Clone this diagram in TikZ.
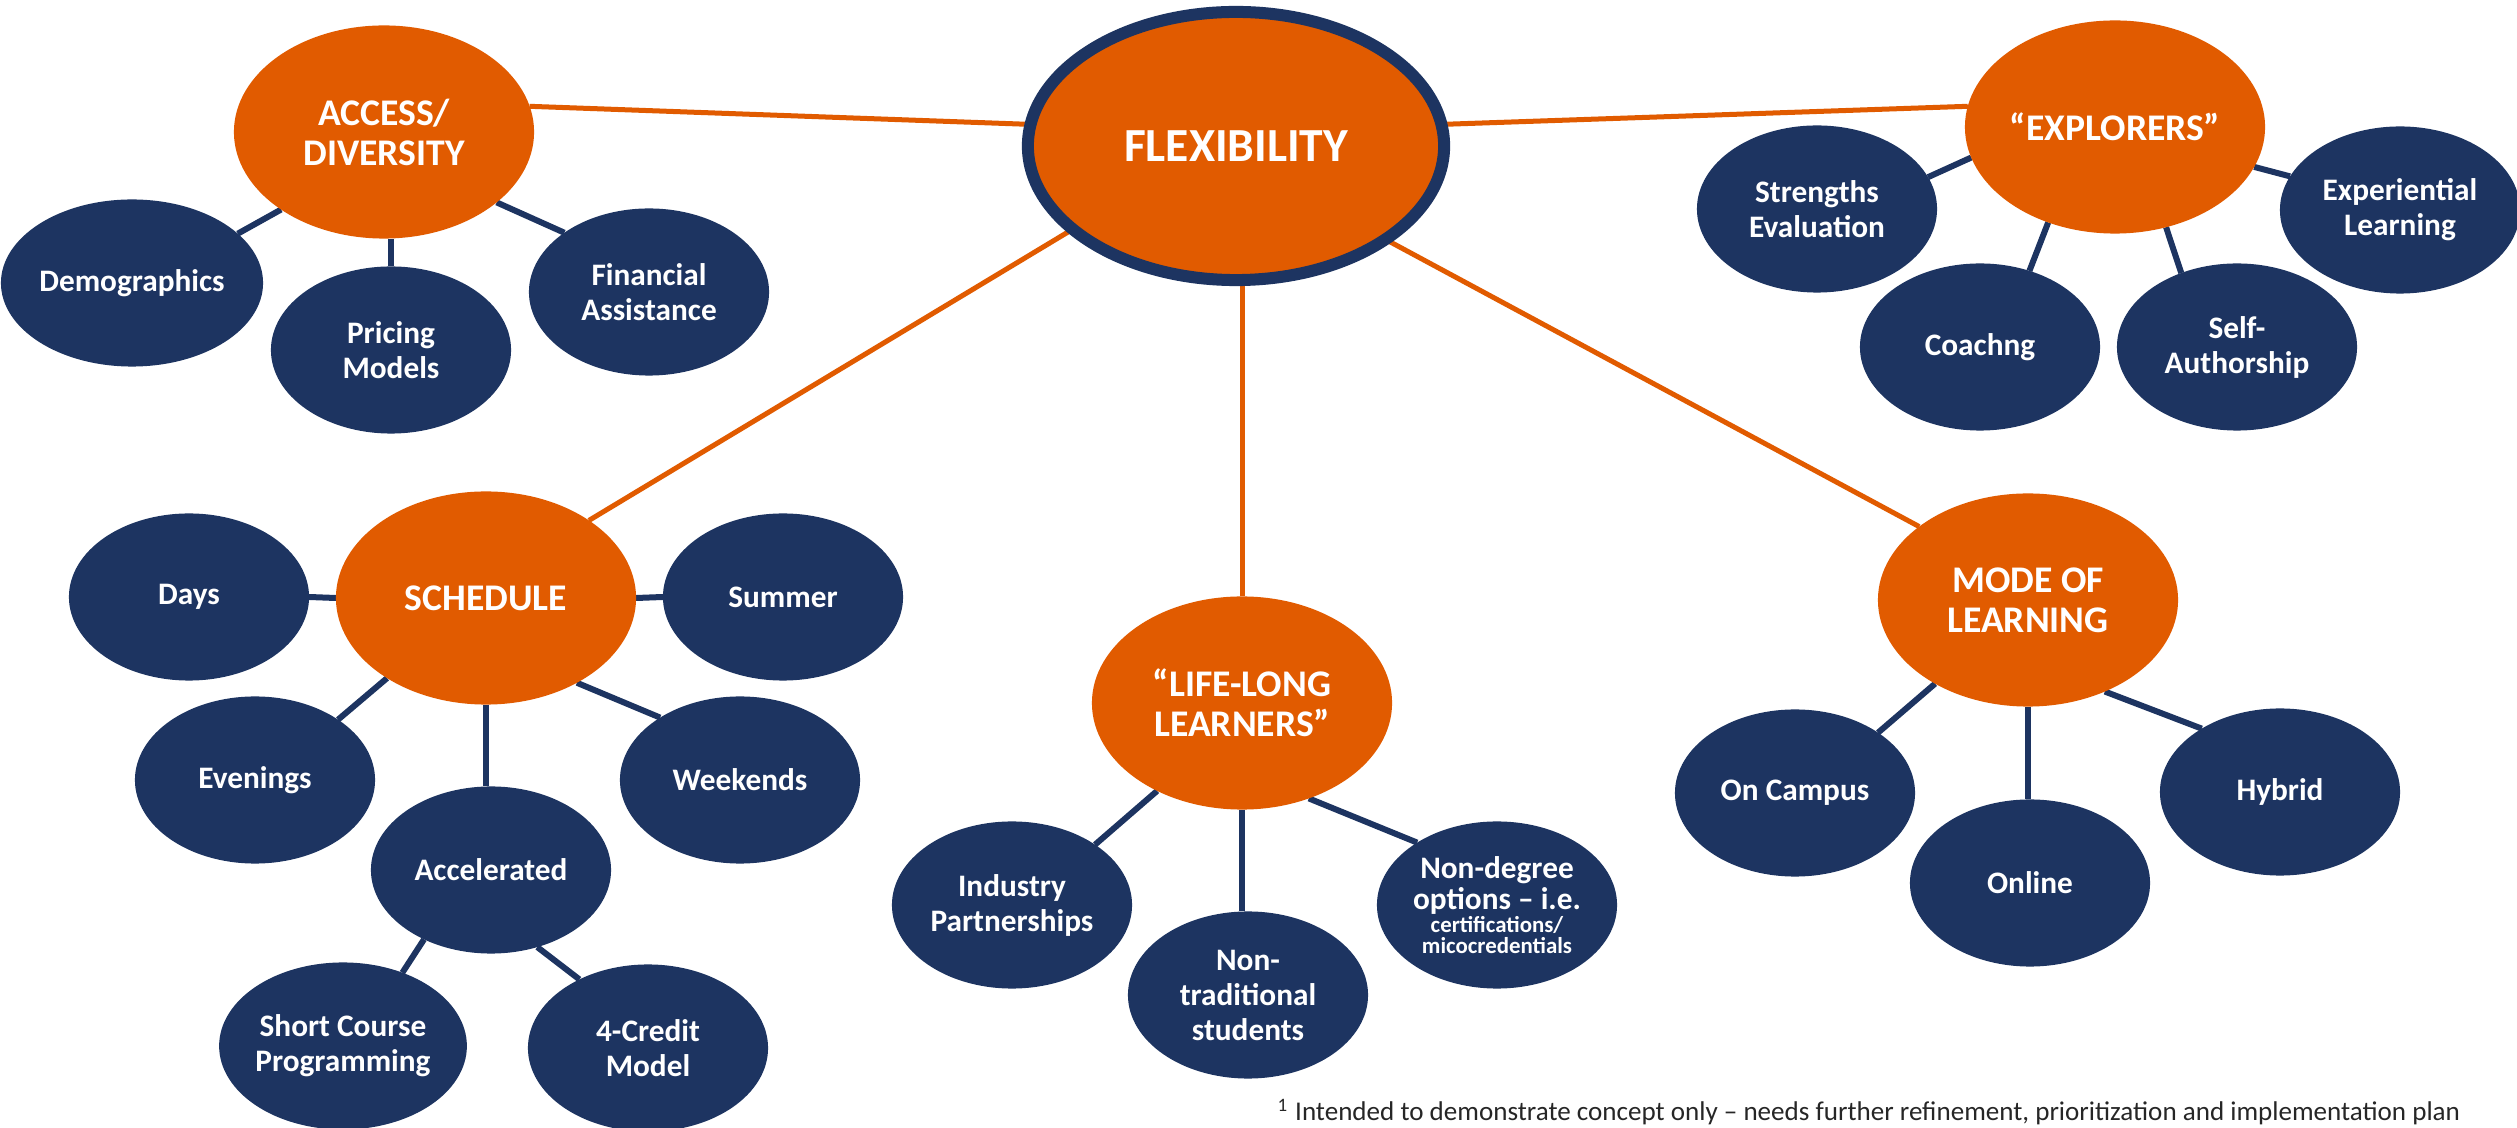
\documentclass[tikz,border=0pt]{standalone}
\usepackage{fontspec}
\setmainfont{Carlito}
\usetikzlibrary{shapes.geometric,backgrounds}
\definecolor{orangeC}{RGB}{225,91,0}
\definecolor{navyC}{RGB}{29,52,97}
\newcommand\flexfont{\fontsize{13.5pt}{14pt}\selectfont\bfseries}
\newcommand\hubfont{\fontsize{10.7pt}{11.4pt}\selectfont\bfseries}
\newcommand\satfont{\fontsize{8.9pt}{9.96pt}\selectfont\bfseries}
\newcommand\ndsmall{\fontsize{6.5pt}{7.2pt}\selectfont\bfseries}
\tikzset{
  hub/.style={ellipse, fill=orangeC, text=white, minimum width=3cm, minimum height=2.13cm,
    inner sep=0pt, outer sep=0pt, align=center, font=\hubfont},
  sat/.style={ellipse, fill=navyC, text=white, minimum width=2.4cm, minimum height=1.67cm,
    inner sep=0pt, outer sep=0pt, align=center, font=\satfont},
  centre/.style={ellipse, fill=orangeC, draw=navyC, line width=0.12cm, text=white,
    minimum width=4.16cm, minimum height=2.68cm, inner sep=0pt, outer sep=0pt, font=\flexfont},
  orline/.style={draw=orangeC, line width=0.05cm},
  navline/.style={draw=navyC, line width=0.06cm},
}
\begin{document}
\begin{tikzpicture}[x=0.01cm, y=-0.01cm]
\useasboundingbox (0,0) rectangle (2517,1128);
% hubs
\node[centre] (flex) at (1236,146) {FLEXIBILITY};
\node[hub] (access) at (384,132) {ACCESS/\\DIVERSITY};
\node[hub] (explorers) at (2115,127) {“EXPLORERS”};
\node[hub] (schedule) at (486,598) {SCHEDULE};
\node[hub] (ll) at (1242,703) {“LIFE-LONG\\LEARNERS”};
\node[hub] (mode) at (2028,600) {MODE OF\\LEARNING};
% access satellites
\node[sat] (demo) at (132,283) {Demographics};
\node[sat] (pricing) at (391,350) {Pricing\\Models};
\node[sat] (financial) at (649,292) {Financial\\Assistance};
% explorers satellites
\node[sat] (strengths) at (1817,209) {Strengths\\Evaluation};
\node[sat] (coach) at (1980,347) {Coachng};
\node[sat] (selfauth) at (2237,347) {Self-\\Authorship};
\node[sat] (exper) at (2400,210) {Experiential\\Learning};
% schedule satellites
\node[sat] (days) at (189,597) {Days};
\node[sat] (summer) at (783,597) {Summer};
\node[sat] (evenings) at (255,780) {Evenings};
\node[sat] (weekends) at (740,780) {Weekends};
\node[sat] (accel) at (491,870) {Accelerated};
\node[sat] (short) at (343,1046) {Short Course\\Programming};
\node[sat] (credit) at (648,1048) {4-Credit\\Model};
% life-long satellites
\node[sat] (industry) at (1012,905) {Industry\\Partnerships};
\node[sat] (nontrad) at (1248,995) {Non-\\traditional\\students};
\node[sat] (nondeg) at (1497,905) {Non-degree\\[-1pt]options – i.e.\\[-3.5pt]{\ndsmall certifications/}\\[-4pt]{\ndsmall micocredentials}};
% mode satellites
\node[sat] (oncampus) at (1795,793) {On Campus};
\node[sat] (online) at (2030,883) {Online};
\node[sat] (hybrid) at (2280,792) {Hybrid};
% footnote
\node[anchor=base west, inner sep=0pt, text=black!85, font=\fontsize{7.7pt}{8pt}\selectfont] (note) at (1277,1121)
  {\textsuperscript{1} Intended to demonstrate concept only – needs further refinement, prioritization and implementation plan};
\begin{scope}[on background layer]
\fill[white] (0,0) rectangle (2517,1128);
% orange connectors
\draw[orline] (access.10) -- (flex.174);
\draw[orline] (flex.6) -- (explorers.172);
\draw[orline] (flex.207) -- (schedule.37);
\draw[orline] (ll.north) -- (ll.north |- flex.south);
\draw[orline] (flex.328) -- (mode.146);
% navy connectors
\draw[navline] (access.217) -- (demo.25);
\draw[navline] (pricing.north) -- (pricing.north |- access.south);
\draw[navline] (access.328) -- (financial.145);
\draw[navline] (explorers.192) -- (strengths.16);
\draw[navline] (explorers.235) -- (coach.57);
\draw[navline] (explorers.297) -- (selfauth.127);
\draw[navline] (explorers.344) -- (exper.163);
\draw[navline] (days.east) -- (schedule.west);
\draw[navline] (schedule.east) -- (summer.west);
\draw[navline] (schedule.219) -- (evenings.36);
\draw[navline] (schedule.317) -- (weekends.142);
\draw[navline] (schedule.south) -- (schedule.south |- accel.north);
\draw[navline] (accel.226) -- (short.51);
\draw[navline] (accel.301) -- (credit.135);
\draw[navline] (ll.226) -- (industry.36);
\draw[navline] (ll.south) -- (ll.south |- nontrad.north);
\draw[navline] (ll.305) -- (nondeg.142);
\draw[navline] (mode.222) -- (oncampus.36);
\draw[navline] (mode.south) -- (mode.south |- online.north);
\draw[navline] (mode.310) -- (hybrid.141);
\end{scope}
\end{tikzpicture}
\end{document}
